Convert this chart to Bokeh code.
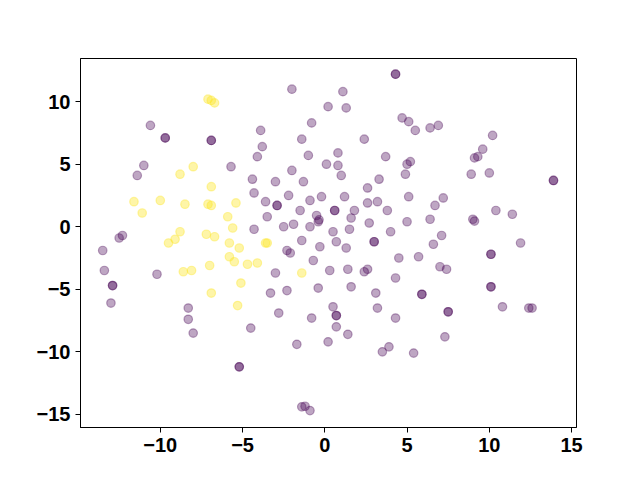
from bokeh.plotting import figure
from bokeh.models import FixedTicker, Range1d
from bokeh.embed import file_html
from bokeh.resources import INLINE

# class 0 (purple) points; repeated entries are coincident points
purple_x = [-10.6, -9.7, -9.7, -11.0, -11.4, -2.0, 0.2, -0.8, -3.9, -6.9, -6.9, -1.4, -3.8, -4.1, -1.0, -5.7, 0.1, -2.0, -4.4, -3.0, -1.3,
            4.3, 4.3, 1.1, 1.3, 4.7, 5.1, 5.5, 6.4, 6.9, 2.4, 0.8, 3.7, 0.8, 5.2, 5.0, 1.0, 4.9, 3.3,
            10.2, 9.6, 9.3, 9.1, 8.9, 10.0, 13.9, 13.9,
            -12.3, -12.5, -13.5, -13.4, -10.2, -12.9, -12.9, -13.0, -8.3, -8.3, -8.0,
            -4.3, -2.2, -3.6, -2.9, -2.9, -0.9, -0.2, -1.5, -3.5, -2.5, -1.9, -0.9, -0.5, -0.4, -0.35, -4.3, -1.4, -0.3, -2.3, -2.1, -0.7, 0.3, -3.0, -3.3, -2.3, -0.4,
            2.6, 1.2, 5.1, 7.2, 6.7, 0.6, 0.6, 1.8, 1.6, 2.6, 3.2, 3.8, 2.7, 5.0, 6.4, 0.5, 1.5, 4.0, 7.1, 6.6, 0.7, 3.0, 3.0, 1.3, 4.5, 5.7, 1.4, 2.6, 2.4, 7.0, 7.4, 4.3, 1.6, 3.1, 5.9, 5.9, 0.5, 3.2,
            10.4, 11.4, 9.0, 9.1, 11.9, 10.1, 10.1, 10.1, 10.1, 10.8, 12.4, 12.6,
            -2.8, -0.8, -4.5, -1.7, 0.2, -5.2, -5.2, -1.4, -1.2, -0.9, 0.7, 0.7, 4.3, 7.5, 7.5, 0.7, 1.4, 7.3, 3.9, 3.5, 5.4]
purple_y = [8.1, 7.1, 7.1, 4.9, 4.1, 11.0, 9.6, 8.3, 7.7, 6.9, 6.9, 7.0, 6.4, 5.6, 5.7, 4.8, 5.0, 4.5, 3.8, 3.6, 3.6,
            12.2, 12.2, 10.8, 9.5, 8.7, 8.4, 7.7, 7.9, 8.1, 7.0, 5.9, 5.6, 4.9, 5.2, 5.0, 4.1, 4.2, 3.8,
            7.3, 6.2, 5.6, 5.5, 4.2, 4.3, 3.7, 3.7,
            -0.7, -0.9, -1.9, -3.5, -3.8, -4.7, -4.7, -6.1, -6.5, -7.4, -8.5,
            2.7, 2.5, 2.0, 1.7, 1.7, 2.1, 2.4, 1.3, 0.8, 0.0, 0.2, 0.0, 0.9, 0.4, 0.55, -0.2, -1.1, -1.6, -1.9, -2.1, -2.7, -3.5, -3.7, -5.3, -5.1, -4.9,
            3.1, 2.4, 2.4, 2.3, 1.7, 1.3, 1.3, 1.3, 0.7, 1.9, 2.0, 1.3, 0.3, 0.4, 0.6, -0.4, -0.2, -0.4, -0.7, -1.4, -1.2, -1.2, -1.2, -1.7, -2.5, -2.4, -3.4, -3.4, -3.6, -3.2, -3.4, -4.1, -4.8, -5.3, -5.4, -5.4, -6.4, -6.5,
            1.3, 1.0, 0.6, 0.45, -1.3, -2.2, -2.2, -4.8, -4.8, -6.4, -6.5, -6.5,
            -6.9, -7.3, -8.1, -9.4, -9.2, -11.2, -11.2, -14.4, -14.35, -14.7, -7.1, -7.1, -7.3, -6.8, -6.8, -8.0, -8.6, -8.8, -9.6, -10.0, -10.1]

# class 1 (yellow) points
yellow_x = [-7.1, -6.9, -6.7, -8.0, -8.8, -11.6, -10.0, -11.1, -8.5, -8.8, -9.1, -9.5, -8.6, -8.1, -6.9, -7.1, -6.9, -5.4,
            -5.9, -5.6, -7.2, -6.7, -5.8, -5.2, -3.6, -3.5, -5.8, -5.5, -4.7, -4.1, -7.0, -1.4, -5.1, -6.9, -5.3]
yellow_y = [10.2, 10.1, 9.9, 4.8, 4.2, 2.0, 2.1, 1.1, 1.8, -0.4, -1.0, -1.3, -3.6, -3.5, 3.2, 1.8, 1.7, 1.9,
            0.8, -0.1, -0.6, -0.8, -1.3, -1.7, -1.3, -1.3, -2.4, -2.8, -3.0, -2.9, -3.1, -3.7, -4.5, -5.3, -6.3]

x_ticks = [-10, -5, 0, 5, 10, 15]
y_ticks = [-15, -10, -5, 0, 5, 10]

p = figure(width=632, height=472, output_backend="svg", toolbar_location=None,
           x_range=Range1d(-14.85, 15.3), y_range=Range1d(-16.05, 13.45),
           min_border_left=80, min_border_right=56, min_border_top=58, min_border_bottom=45)
p.background_fill_color = "white"
p.border_fill_color = "white"
p.xgrid.visible = False
p.ygrid.visible = False
p.outline_line_color = "black"
p.outline_line_alpha = 1.0
p.outline_line_width = 1

p.xaxis.ticker = FixedTicker(ticks=x_ticks)
p.yaxis.ticker = FixedTicker(ticks=y_ticks)
p.xaxis.major_label_overrides = {t: str(t).replace("-", "\u2212") for t in x_ticks}
p.yaxis.major_label_overrides = {t: str(t).replace("-", "\u2212") for t in y_ticks}
for ax in (p.xaxis, p.yaxis):
    ax.axis_line_color = "black"
    ax.major_tick_line_color = "black"
    ax.major_tick_out = 5
    ax.major_tick_in = 0
    ax.minor_tick_line_color = None
    ax.major_label_text_font = "Liberation Sans"
    ax.major_label_text_font_style = "bold"
    ax.major_label_text_font_size = "20px"
    ax.major_label_text_color = "black"
    ax.major_label_standoff = 5

p.scatter(purple_x, purple_y, size=8.5, fill_color="#440154", line_color="#440154",
          fill_alpha=0.35, line_alpha=0.35, line_width=1.2)
p.scatter(yellow_x, yellow_y, size=8.5, fill_color="#fde725", line_color="#fde725",
          fill_alpha=0.4, line_alpha=0.4, line_width=1.2)

open("out.html", "w").write(file_html(p, INLINE))
